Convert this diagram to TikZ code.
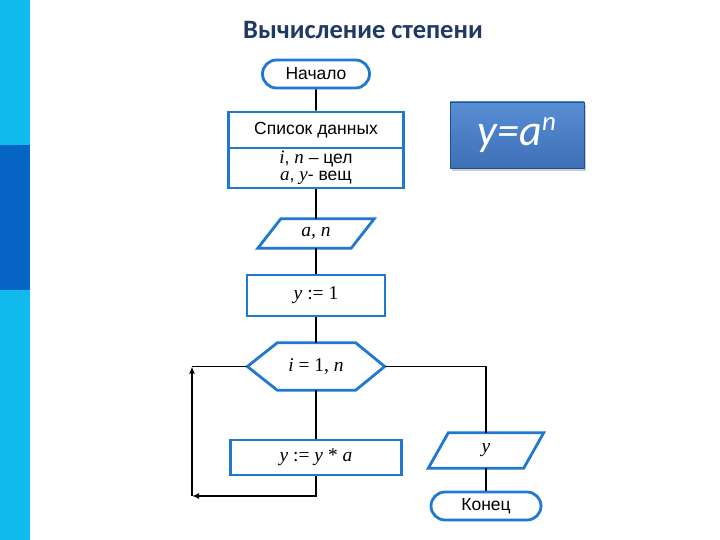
\documentclass[tikz,border=0pt]{standalone}
\usepackage{fontspec}
\setmainfont{Liberation Sans}
\newfontfamily\tnrfont{Liberation Serif}
\newfontfamily\calfont{Carlito}
\usetikzlibrary{shapes.misc,shadows,arrows.meta}
\definecolor{barlight}{RGB}{16,186,236}
\definecolor{bardark}{RGB}{5,100,196}
\definecolor{titleblue}{RGB}{31,56,100}
\definecolor{shapeblue}{RGB}{32,120,210}
\tikzset{
  shp/.style={draw=shapeblue, line width=2.8pt, fill=white, inner sep=0pt, font=\fontsize{17.5}{19}\selectfont},
  boxs/.style={shp, rectangle},
  term/.style={shp, rounded rectangle},
  plain/.style={draw=none, inner sep=0pt},
  border/.style={draw=shapeblue, line width=2.8pt},
  mathtxt/.style={font=\tnrfont\fontsize{19.5}{21}\selectfont},
  conn/.style={draw=black, line width=1.8pt},
  arr/.style={conn, -{Latex[length=7pt,width=6pt]}},
}
\begin{document}
\begin{tikzpicture}[x=1pt,y=-1pt]
\useasboundingbox (0,0) rectangle (720,540);
\fill[white] (0,0) rectangle (720,540);
% side bar
\fill[barlight] (0,0) rectangle (30,145);
\fill[bardark] (0,145) rectangle (30,290);
\fill[barlight] (0,290) rectangle (30,540);
% title
\node[font=\calfont\bfseries\fontsize{26.5}{30}\selectfont, text=titleblue] (title) at (363,30) {Вычисление степени};
% formula box
\node[draw=shapeblue!70!black, line width=0.8pt, top color={rgb,255:red,88;green,142;blue,212}, bottom color={rgb,255:red,62;green,112;blue,182},
  minimum width=134pt, minimum height=66pt, inner sep=0pt, drop shadow={shadow xshift=2pt,shadow yshift=-3pt,opacity=0.4},
  text=white, font=\calfont\itshape\fontsize{44}{46}\selectfont] (formula) at (517,135) {y=a\raisebox{15pt}{\fontsize{27}{28}\selectfont n}};
% flowchart nodes
\node[term, minimum width=107pt, minimum height=28pt] (start) at (316,74) {Начало};
\node[boxs, minimum width=175pt, minimum height=36pt] (list) at (316,130) {Список данных};
\node[boxs, minimum width=175pt, minimum height=40pt, align=center, font=\fontsize{17.5}{17.5}\selectfont] (types) at (316,168)
  {{\tnrfont\itshape\fontsize{19}{19}\selectfont i}, {\tnrfont\itshape\fontsize{19}{19}\selectfont n} – цел\\{\tnrfont\itshape\fontsize{19}{19}\selectfont a}, {\tnrfont\itshape\fontsize{19}{19}\selectfont y}- вещ};
% input parallelogram
\node[plain, mathtxt, minimum width=116pt, minimum height=29pt] (in) at (316,233.5) {\itshape a, n};
\draw[border] ([xshift=23pt]in.north west) -- (in.north east) -- ([xshift=-23pt]in.south east) -- (in.south west) -- cycle;
\node[boxs, mathtxt, minimum width=138pt, minimum height=41pt] (init) at (316,295.5) {\textit{y} := 1};
% hexagon
\node[plain, mathtxt, minimum width=137pt, minimum height=47pt] (loop) at (316,366.5) {\textit{i} = 1, \textit{n}};
\draw[border] (loop.west) -- ([xshift=30pt]loop.north west) -- ([xshift=-29pt]loop.north east) -- (loop.east) -- ([xshift=-29pt]loop.south east) -- ([xshift=30pt]loop.south west) -- cycle;
\node[boxs, mathtxt, minimum width=171pt, minimum height=35pt] (body) at (316,457.5) {\textit{y} := \textit{y} * \textit{a}};
% output parallelogram
\node[plain, mathtxt, minimum width=115pt, minimum height=35pt] (out) at (486,450.5) {\itshape y};
\draw[border] ([xshift=20pt]out.north west) -- (out.north east) -- ([xshift=-20pt]out.south east) -- (out.south west) -- cycle;
\node[term, minimum width=110pt, minimum height=28pt] (end) at (486,506) {Конец};
% connectors
\coordinate (bl) at (192,496);
\coordinate (tl) at (192,366.5);
\draw[conn] (start) -- (list);
\draw[conn] (types) -- (in);
\draw[conn] (in) -- (init);
\draw[conn] (init) -- (loop);
\draw[conn] (loop) -- (body.north);
\draw[arr] (body.south) |- (bl);
\draw[arr] (bl) -- (tl);
\draw[conn] (tl) -- (loop.west);
\draw[conn] (loop.east) -| (out.north);
\draw[conn] (out.south) -- (end.north);
\end{tikzpicture}
\end{document}
